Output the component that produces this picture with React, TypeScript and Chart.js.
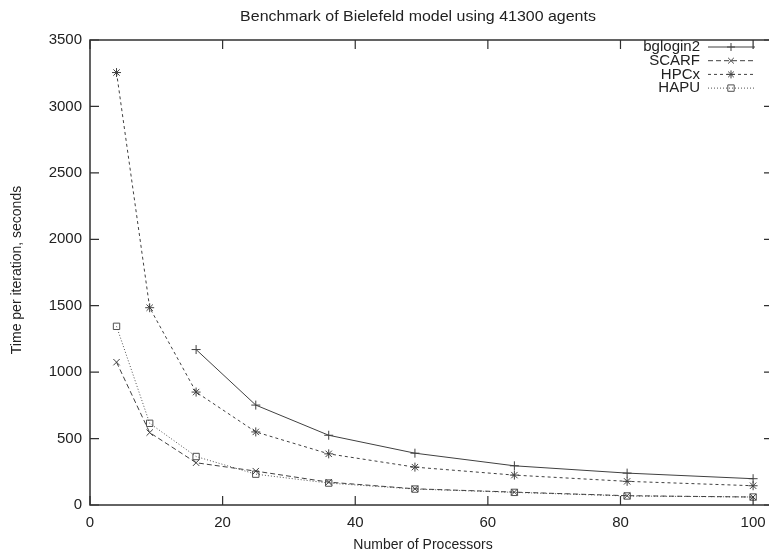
import React, { useEffect, useRef } from "react";
import { Chart, registerables } from "chart.js";

Chart.register(...registerables);

const titleText = "Benchmark of Bielefeld model using 41300 agents";
const xTitle = "Number of Processors";
const yTitle = "Time per iteration, seconds";

const processors = [4, 9, 16, 25, 36, 49, 64, 81, 100];
const bglogin2 = [null, null, 1170, 752, 525, 390, 295, 240, 198];
const scarf = [1075, 545, 318, 255, 172, 122, 97, 70, 60];
const hpcx = [3255, 1485, 850, 550, 385, 285, 225, 178, 145];
const hapu = [1345, 615, 365, 232, 165, 120, 95, 68, 60];

const seriesNames = ["bglogin2", "SCARF", "HPCx", "HAPU"];
const xTicks = [0, 20, 40, 60, 80, 100];
const yTicks = [0, 500, 1000, 1500, 2000, 2500, 3000, 3500];

const FONT = "'Liberation Sans', Arial, Helvetica, sans-serif";

function toPoints(vals: (number | null)[]) {
  const pts: { x: number; y: number }[] = [];
  vals.forEach((v, i) => {
    if (v !== null) pts.push({ x: processors[i], y: v });
  });
  return pts;
}

const styles = [
  { color: "#404040", dash: [] as number[], point: "cross" },
  { color: "#404040", dash: [5, 3], point: "crossRot" },
  { color: "#404040", dash: [3, 3], point: "star" },
  { color: "#505050", dash: [1, 2], point: "rect" },
];

function drawMarker(ctx: CanvasRenderingContext2D, kind: string, x: number, y: number, r: number) {
  ctx.beginPath();
  if (kind === "cross" || kind === "star") {
    ctx.moveTo(x - r, y);
    ctx.lineTo(x + r, y);
    ctx.moveTo(x, y - r);
    ctx.lineTo(x, y + r);
  }
  if (kind === "crossRot" || kind === "star") {
    const d = r * 0.7071;
    ctx.moveTo(x - d, y - d);
    ctx.lineTo(x + d, y + d);
    ctx.moveTo(x - d, y + d);
    ctx.lineTo(x + d, y - d);
  }
  if (kind === "rect") {
    const d = r * 0.8;
    ctx.rect(x - d, y - d, 2 * d, 2 * d);
  }
  ctx.stroke();
}

function stretchedText(ctx: CanvasRenderingContext2D, text: string, x: number, y: number, sx: number) {
  ctx.save();
  ctx.translate(x, y);
  ctx.scale(sx, 1);
  ctx.fillText(text, 0, 0);
  ctx.restore();
}

const framePlugin = {
  id: "gnuplotFrame",
  afterDraw(chart: any) {
    const { ctx, chartArea } = chart;
    const { left, right, top, bottom } = chartArea;
    const xs = chart.scales.x;
    const ys = chart.scales.y;
    ctx.save();
    ctx.setLineDash([]);
    ctx.strokeStyle = "#303030";
    ctx.lineWidth = 1.5;
    ctx.strokeRect(left, top, right - left, bottom - top);
    ctx.lineWidth = 1.2;
    const tl = 9;
    ctx.beginPath();
    xTicks.forEach((v) => {
      const px = xs.getPixelForValue(v);
      ctx.moveTo(px, bottom);
      ctx.lineTo(px, bottom - tl);
      ctx.moveTo(px, top);
      ctx.lineTo(px, top + tl);
    });
    yTicks.forEach((v) => {
      const py = ys.getPixelForValue(v);
      ctx.moveTo(left, py);
      ctx.lineTo(left + tl, py);
      ctx.moveTo(right, py);
      ctx.lineTo(right - tl, py);
    });
    ctx.stroke();

    ctx.fillStyle = "#222";
    ctx.textBaseline = "middle";
    ctx.textAlign = "center";
    ctx.font = `14px ${FONT}`;
    stretchedText(ctx, titleText, 418, 17, 1.14);
    ctx.fillText(xTitle, 423, 545);
    ctx.save();
    ctx.translate(17, 270);
    ctx.rotate(-Math.PI / 2);
    ctx.fillText(yTitle, 0, 0);
    ctx.restore();

    // legend (gnuplot style: text right aligned, sample on the right)
    ctx.font = `15px ${FONT}`;
    ctx.textAlign = "right";
    seriesNames.forEach((name, i) => {
      const y = 47 + i * 13.7;
      const st = styles[i];
      ctx.fillStyle = "#222";
      ctx.fillText(name, 700, y);
      ctx.strokeStyle = st.color;
      ctx.lineWidth = 1;
      ctx.setLineDash(st.dash);
      ctx.beginPath();
      ctx.moveTo(708, y);
      ctx.lineTo(755, y);
      ctx.stroke();
      ctx.setLineDash([]);
      drawMarker(ctx, st.point, 731, y, 4);
    });
    ctx.restore();
  },
};

export default function App() {
  const ref = useRef<HTMLCanvasElement>(null);
  useEffect(() => {
    if (!ref.current) return;
    const series = [bglogin2, scarf, hpcx, hapu];
    const chart = new Chart(ref.current, {
      type: "line",
      data: {
        datasets: series.map((vals, i) => ({
          label: seriesNames[i],
          data: toPoints(vals),
          borderColor: styles[i].color,
          borderWidth: 1,
          borderDash: styles[i].dash,
          pointStyle: styles[i].point as any,
          pointRadius: 4.5,
          pointBorderWidth: 1,
          pointBorderColor: styles[i].color,
          pointBackgroundColor: "rgba(0,0,0,0)",
          fill: false,
          tension: 0,
        })),
      },
      options: {
        animation: false,
        responsive: false,
        devicePixelRatio: 1,
        layout: { padding: { left: 0, right: 17, top: 40, bottom: 0 } },
        plugins: {
          legend: { display: false },
          tooltip: { enabled: false },
          title: { display: false },
        },
        scales: {
          x: {
            type: "linear",
            min: 0,
            max: 103,
            grid: { display: false, drawTicks: false },
            border: { display: false },
            afterBuildTicks: (s: any) => {
              s.ticks = xTicks.map((v) => ({ value: v }));
            },
            afterFit: (s: any) => {
              s.height = 52;
            },
            ticks: {
              padding: 9,
              color: "#222",
              font: { family: FONT, size: 15 },
              maxRotation: 0,
              autoSkip: false,
              callback: (v: any) => String(v),
            },
          },
          y: {
            type: "linear",
            min: 0,
            max: 3500,
            grid: { display: false, drawTicks: false },
            border: { display: false },
            afterBuildTicks: (s: any) => {
              s.ticks = yTicks.map((v) => ({ value: v }));
            },
            afterFit: (s: any) => {
              s.width = 90;
            },
            ticks: {
              padding: 8,
              color: "#222",
              font: { family: FONT, size: 15 },
              autoSkip: false,
              callback: (v: any) => String(v),
            },
          },
        },
      },
      plugins: [framePlugin],
    });
    return () => chart.destroy();
  }, []);
  return (
    <div
      style={{
        position: "fixed",
        left: 0,
        top: 0,
        width: 769,
        height: 557,
        overflow: "hidden",
        background: "#fff",
      }}
    >
      <canvas ref={ref} width={790} height={557} style={{ width: 790, height: 557, display: "block" }} />
    </div>
  );
}
